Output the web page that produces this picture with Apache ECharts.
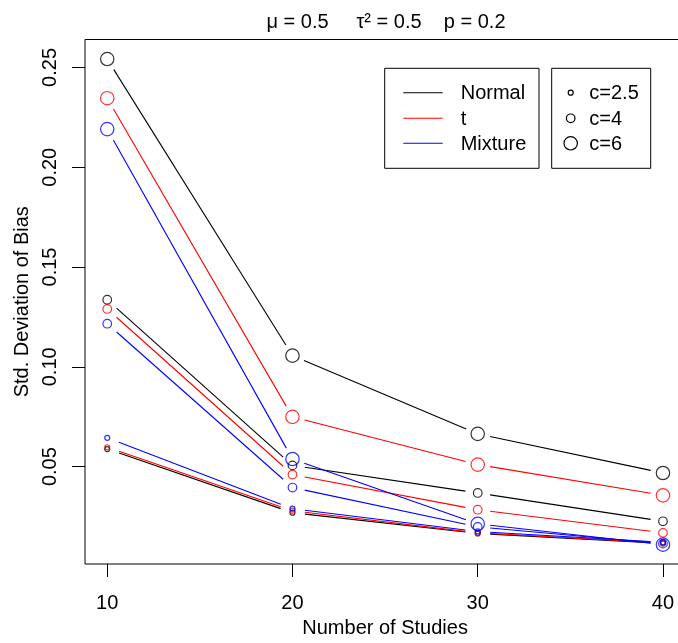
<!DOCTYPE html>
<html>
<head>
<meta charset="utf-8">
<title>Std. Deviation of Bias</title>
<script src="https://cdn.jsdelivr.net/npm/echarts@6/dist/echarts.min.js"></script>
<style>
  html, body { margin: 0; padding: 0; background: #fff; }
  #chart { width: 678px; height: 643px; }
</style>
</head>
<body>
<div id="chart"></div>
<script>
// Number of studies on the x axis
const studies = [10, 20, 30, 40];

// Std. deviation of bias, one array per distribution and cut-off c
const normal_c25 = [0.0588, 0.0269, 0.0165, 0.0115];
const normal_c4  = [0.1336, 0.0506, 0.0368, 0.0226];
const normal_c6  = [0.2542, 0.1056, 0.0664, 0.0468];
const t_c25      = [0.0597, 0.0279, 0.0168, 0.0118];
const t_c4       = [0.1290, 0.0460, 0.0284, 0.0168];
const t_c6       = [0.2346, 0.0749, 0.0510, 0.0356];
const mix_c25    = [0.0644, 0.0289, 0.0175, 0.0121];
const mix_c4     = [0.1216, 0.0395, 0.0198, 0.0114];
const mix_c6     = [0.2191, 0.0538, 0.0213, 0.0109];

const xTicks = [10, 20, 30, 40];
const yTicks = [0.05, 0.10, 0.15, 0.20, 0.25];

const distNames = ['Normal', 't', 'Mixture'];
const cLabels = ['c=2.5', 'c=4', 'c=6'];

const FONT = '"Liberation Sans", Arial, Helvetica, sans-serif';
const COLORS = { Normal: '#000000', t: '#ff0000', Mixture: '#0000ff' };
const SYMBOL = { 'c=2.5': 5, 'c=4': 8.6, 'c=6': 13.4 };
const GAP = 12.5; // gap between a point and its connecting segment (px)

const curves = [
  { dist: 'Normal',  c: 'c=2.5', values: normal_c25 },
  { dist: 'Normal',  c: 'c=4',   values: normal_c4 },
  { dist: 'Normal',  c: 'c=6',   values: normal_c6 },
  { dist: 't',       c: 'c=2.5', values: t_c25 },
  { dist: 't',       c: 'c=4',   values: t_c4 },
  { dist: 't',       c: 'c=6',   values: t_c6 },
  { dist: 'Mixture', c: 'c=2.5', values: mix_c25 },
  { dist: 'Mixture', c: 'c=4',   values: mix_c4 },
  { dist: 'Mixture', c: 'c=6',   values: mix_c6 }
];

// Segments between neighbouring points, trimmed at both ends (type "b" look)
function segmentRenderer(color) {
  return function (params, api) {
    const p1 = api.coord([api.value(0), api.value(1)]);
    const p2 = api.coord([api.value(2), api.value(3)]);
    const dx = p2[0] - p1[0], dy = p2[1] - p1[1];
    const len = Math.sqrt(dx * dx + dy * dy);
    if (len <= 2 * GAP) return null;
    const ux = dx / len, uy = dy / len;
    return {
      type: 'line',
      shape: {
        x1: p1[0] + ux * GAP, y1: p1[1] + uy * GAP,
        x2: p2[0] - ux * GAP, y2: p2[1] - uy * GAP
      },
      style: { stroke: color, lineWidth: 1.1 }
    };
  };
}

const series = [];
curves.forEach(function (cv) {
  const segs = [];
  for (let i = 0; i < studies.length - 1; i++) {
    segs.push([studies[i], cv.values[i], studies[i + 1], cv.values[i + 1]]);
  }
  series.push({
    type: 'custom',
    name: cv.dist + ' ' + cv.c + ' lines',
    renderItem: segmentRenderer(COLORS[cv.dist]),
    encode: { x: [0, 2], y: [1, 3] },
    data: segs,
    silent: true
  });
});
curves.forEach(function (cv) {
  series.push({
    type: 'scatter',
    name: cv.dist + ' ' + cv.c,
    symbol: 'circle',
    symbolSize: SYMBOL[cv.c],
    itemStyle: { color: 'rgba(0,0,0,0)', borderColor: COLORS[cv.dist], borderWidth: 1.2 },
    data: studies.map(function (s, i) { return [s, cv.values[i]]; }),
    silent: true
  });
});

// Title and legend boxes drawn as graphics
const graphics = [];
graphics.push({
  type: 'text', x: 386, y: 22,
  style: { text: 'μ = 0.5     τ² = 0.5    p = 0.2', font: '20px ' + FONT, fill: '#000',
           textAlign: 'center', textVerticalAlign: 'middle' }
});
const rowY = [92.7, 118.3, 143.3];
graphics.push({ type: 'rect', shape: { x: 384.7, y: 68.3, width: 154.3, height: 100 },
  style: { fill: '#fff', stroke: '#000', lineWidth: 1 }, z: 10 });
graphics.push({ type: 'rect', shape: { x: 551.7, y: 68.3, width: 99, height: 100 },
  style: { fill: '#fff', stroke: '#000', lineWidth: 1 }, z: 10 });
distNames.forEach(function (d, i) {
  graphics.push({ type: 'line', shape: { x1: 403.3, y1: rowY[i], x2: 442.7, y2: rowY[i] },
    style: { stroke: COLORS[d], lineWidth: 1.1 }, z: 11 });
  graphics.push({ type: 'text', x: 460.7, y: rowY[i] + 1,
    style: { text: d, font: '20px ' + FONT, fill: '#000', textAlign: 'left', textVerticalAlign: 'middle' }, z: 11 });
});
cLabels.forEach(function (c, i) {
  graphics.push({ type: 'circle', shape: { cx: 570.7, cy: rowY[i], r: SYMBOL[c] / 2 },
    style: { fill: 'none', stroke: '#000', lineWidth: 1.2 }, z: 11 });
  graphics.push({ type: 'text', x: 589.3, y: rowY[i] + 1,
    style: { text: c, font: '20px ' + FONT, fill: '#000', textAlign: 'left', textVerticalAlign: 'middle' }, z: 11 });
});

const axisText = { fontSize: 20, color: '#000', fontFamily: FONT };

const option = {
  animation: false,
  backgroundColor: '#ffffff',
  grid: { left: 85, top: 39.5, width: 600.2, bottom: 79, show: true,
          outerBoundsMode: 'none', containLabel: false,
          borderColor: '#000', borderWidth: 1, backgroundColor: 'rgba(0,0,0,0)' },
  xAxis: {
    type: 'value', min: 8.8, max: 41.2,
    axisLine: { show: false },
    splitLine: { show: false },
    axisTick: { show: true, length: 13, customValues: xTicks, lineStyle: { color: '#000', width: 1 } },
    axisLabel: Object.assign({ customValues: xTicks, margin: 29 }, axisText),
    name: 'Number of Studies', nameLocation: 'middle', nameGap: 54,
    nameTextStyle: axisText
  },
  yAxis: {
    type: 'value', min: 0.0012, max: 0.264,
    axisLine: { show: false },
    splitLine: { show: false },
    axisTick: { show: true, length: 13, customValues: yTicks, lineStyle: { color: '#000', width: 1 } },
    axisLabel: Object.assign({ customValues: yTicks, margin: 25, rotate: 90,
      formatter: function (v) { return v.toFixed(2); } }, axisText),
    name: 'Std. Deviation of Bias', nameLocation: 'middle', nameGap: 46, nameRotate: 90,
    nameTextStyle: axisText
  },
  graphic: graphics,
  series: series
};

const chart = echarts.init(document.getElementById('chart'), null, { renderer: 'canvas' });
chart.setOption(option);
</script>
</body>
</html>
